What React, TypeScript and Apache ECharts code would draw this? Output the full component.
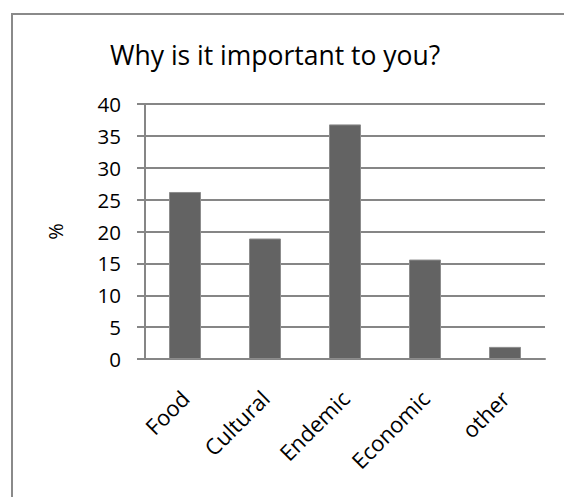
import React, { useEffect, useRef } from "react";
import * as echarts from "echarts";

const categories = ["Food", "Cultural", "Endemic", "Economic", "other"];
const percentages = [26.2, 18.9, 36.8, 15.6, 1.9];
const yTicks = { min: 0, max: 40, interval: 5 };

const FONT = "'Open Sans', 'Noto Sans', sans-serif";
const FRAME = "#8a8a8a";

export default function App() {
  const ref = useRef<HTMLDivElement>(null);

  useEffect(() => {
    if (!ref.current) return;
    const chart = echarts.init(ref.current, null, { renderer: "svg" });
    chart.setOption({
      animation: false,
      backgroundColor: "#ffffff",
      textStyle: { fontFamily: FONT },
      graphic: [
        // chart-area frame: only its top and left edges are in view
        {
          type: "line",
          shape: { x1: 11, y1: 14, x2: 564, y2: 14 },
          style: { stroke: FRAME, lineWidth: 2 },
          silent: true,
        },
        {
          type: "line",
          shape: { x1: 12, y1: 13, x2: 12, y2: 497 },
          style: { stroke: FRAME, lineWidth: 2 },
          silent: true,
        },
      ],
      title: {
        text: "Why is it important to you?",
        left: 105,
        top: 36,
        textStyle: { fontFamily: FONT, fontSize: 26.5, fontWeight: "normal", color: "#000000" },
      },
      grid: { left: 145, right: 19, top: 104, bottom: 138, containLabel: false },
      xAxis: {
        type: "category",
        data: categories,
        axisLine: { show: true, lineStyle: { color: "#868686", width: 2 } },
        axisTick: { show: false },
        axisLabel: {
          rotate: 45,
          margin: 35,
          fontFamily: FONT,
          fontSize: 22,
          color: "#000000",
        },
      },
      yAxis: {
        type: "value",
        min: yTicks.min,
        max: yTicks.max,
        interval: yTicks.interval,
        name: "%",
        nameLocation: "middle",
        nameGap: 80,
        nameRotate: 90,
        nameTextStyle: { fontFamily: FONT, fontSize: 20, color: "#000000" },
        axisLine: { show: true, lineStyle: { color: "#868686", width: 2 } },
        axisTick: { show: true, length: 8, lineStyle: { color: "#868686", width: 2 } },
        splitLine: { show: true, lineStyle: { color: "#868686", width: 2 } },
        axisLabel: { margin: 24, fontFamily: FONT, fontSize: 20.5, color: "#000000" },
      },
      series: [
        {
          type: "bar",
          data: percentages,
          barWidth: "40%",
          itemStyle: { color: "#636363", borderColor: "#8c8c8c", borderWidth: 1 },
        },
      ],
    });
    return () => chart.dispose();
  }, []);

  return <div ref={ref} style={{ width: 564, height: 497, position: "absolute", left: 0, top: 0 }} />;
}
